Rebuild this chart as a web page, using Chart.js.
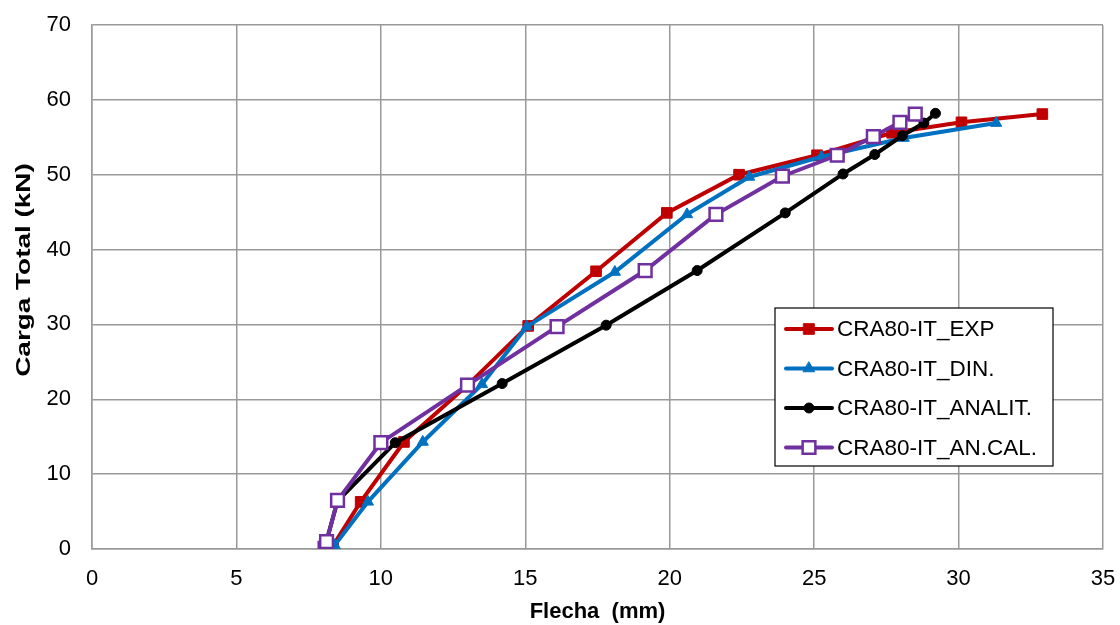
<!DOCTYPE html>
<html>
<head>
<meta charset="utf-8">
<script src="https://cdn.jsdelivr.net/npm/chart.js@4/dist/chart.umd.min.js"></script>
<style>
  html, body { margin: 0; padding: 0; background: #fff; }
  #wrap { width: 1120px; height: 625px; }
</style>
</head>
<body>
<div id="wrap"><canvas id="grafico" width="1120" height="625"></canvas></div>
<script>
// Flecha (mm) x Carga Total (kN)
const expX = [8.35, 9.3, 10.8, 13.0, 15.1, 17.45, 19.9, 22.4, 25.1, 27.7, 30.1, 32.9];
const expY = [0.5, 6.3, 14.3, 21.9, 29.8, 37.1, 44.9, 50.0, 52.6, 55.6, 57.0, 58.1];

const dinX = [8.4, 9.55, 11.45, 13.5, 15.05, 18.1, 20.6, 22.75, 25.25, 28.1, 31.3];
const dinY = [0.5, 6.3, 14.3, 22.0, 29.7, 37.0, 44.7, 49.7, 52.4, 54.9, 56.9];

const anaX = [8.1, 8.5, 10.5, 14.2, 17.8, 20.95, 24.0, 26.0, 27.1, 28.05, 28.8, 29.2];
const anaY = [0.8, 6.4, 14.2, 22.1, 29.9, 37.2, 44.9, 50.1, 52.7, 55.2, 56.9, 58.2];

const calX = [8.07, 8.12, 8.5, 10.0, 13.0, 16.1, 19.15, 21.6, 23.9, 25.8, 27.05, 27.97, 28.5];
const calY = [0.1, 1.0, 6.5, 14.2, 21.9, 29.7, 37.2, 44.7, 49.8, 52.6, 55.1, 57.0, 58.1];

const nomes = ['CRA80-IT_EXP', 'CRA80-IT_DIN.', 'CRA80-IT_ANALIT.', 'CRA80-IT_AN.CAL.'];
const xTicks = [0, 5, 10, 15, 20, 25, 30, 35];
const yTicks = [0, 10, 20, 30, 40, 50, 60, 70];
const tituloX = 'Flecha  (mm)';
const tituloY = 'Carga Total (kN)';

const pares = (xs, ys) => xs.map((x, i) => ({ x: x, y: ys[i] }));

const fonte = '"Liberation Sans", Arial, sans-serif';

// título vertical, um pouco esticado no sentido do texto
const tituloVertical = {
  id: 'tituloVertical',
  afterDraw(chart) {
    const ctx = chart.ctx;
    const a = chart.chartArea;
    ctx.save();
    ctx.translate(24, (a.top + a.bottom) / 2 - 17);
    ctx.rotate(-Math.PI / 2);
    ctx.scale(1.33, 1);
    ctx.font = 'bold 21px ' + fonte;
    ctx.fillStyle = '#000';
    ctx.textAlign = 'center';
    ctx.textBaseline = 'middle';
    ctx.fillText(tituloY, 0, 0);
    ctx.restore();
  }
};

// legenda desenhada dentro da área do gráfico
const legendaInterna = {
  id: 'legendaInterna',
  afterDraw(chart) {
    const ctx = chart.ctx;
    const a = chart.chartArea;
    const x0 = a.right - 328, y0 = a.top + 283;
    const w = 278, h = 158;
    ctx.save();
    ctx.fillStyle = '#fff';
    ctx.fillRect(x0, y0, w, h);
    ctx.strokeStyle = '#000';
    ctx.lineWidth = 1.2;
    ctx.strokeRect(x0, y0, w, h);
    ctx.font = '22.5px ' + fonte;
    ctx.textBaseline = 'middle';
    chart.data.datasets.forEach((ds, i) => {
      const yy = y0 + 21 + i * 39.5;
      const cx = x0 + 34;
      ctx.strokeStyle = ds.borderColor;
      ctx.lineWidth = 4;
      ctx.lineCap = 'round';
      ctx.beginPath();
      ctx.moveTo(x0 + 11, yy);
      ctx.lineTo(x0 + 57, yy);
      ctx.stroke();
      ctx.fillStyle = ds.pointBackgroundColor;
      ctx.strokeStyle = ds.pointBorderColor;
      ctx.lineWidth = ds.pointBorderWidth;
      ctx.beginPath();
      const r = ds.pointRadius;
      if (ds.pointStyle === 'circle') {
        ctx.arc(cx, yy, r, 0, Math.PI * 2);
      } else if (ds.pointStyle === 'triangle') {
        ctx.moveTo(cx, yy - r);
        ctx.lineTo(cx + r * 0.87, yy + r * 0.5);
        ctx.lineTo(cx - r * 0.87, yy + r * 0.5);
        ctx.closePath();
      } else {
        const s = r * Math.SQRT1_2;
        ctx.rect(cx - s, yy - s, 2 * s, 2 * s);
      }
      ctx.fill();
      ctx.stroke();
      ctx.fillStyle = '#000';
      ctx.fillText(nomes[i], x0 + 62, yy + 1);
    });
    ctx.restore();
  }
};

function serie(i, xs, ys, cor, estilo, raio, fundo, borda, ordem) {
  return {
    label: nomes[i],
    data: pares(xs, ys),
    showLine: true,
    borderColor: cor,
    borderWidth: 4,
    pointStyle: estilo,
    pointRadius: raio,
    pointHoverRadius: raio,
    pointBackgroundColor: fundo,
    pointBorderColor: borda,
    pointBorderWidth: borda === fundo ? 1 : 2.5,
    tension: 0,
    order: ordem
  };
}

new Chart(document.getElementById('grafico'), {
  type: 'scatter',
  data: {
    datasets: [
      serie(0, expX, expY, '#C00000', 'rect', 7.5, '#C00000', '#C00000', 4),
      serie(1, dinX, dinY, '#0070C0', 'triangle', 6.5, '#0070C0', '#0070C0', 3),
      serie(2, anaX, anaY, '#000000', 'circle', 5, '#000000', '#000000', 2),
      serie(3, calX, calY, '#7030A0', 'rect', 9, '#FFFFFF', '#7030A0', 1)
    ]
  },
  options: {
    responsive: false,
    animation: false,
    layout: { padding: { top: 25, right: 17, left: 0, bottom: 0 } },
    plugins: {
      legend: { display: false },
      tooltip: { enabled: false }
    },
    scales: {
      x: {
        type: 'linear',
        min: 0,
        max: 35,
        afterBuildTicks: s => { s.ticks = xTicks.map(v => ({ value: v })); },
        afterFit: s => { s.height = 76; s.paddingLeft = 0; s.paddingRight = 0; },
        ticks: { color: '#000', font: { family: fonte, size: 22 }, padding: 17 },
        grid: { color: '#999', lineWidth: 1.5, drawTicks: false },
        border: { color: '#999', width: 1.5 },
        title: {
          display: true,
          text: tituloX,
          color: '#000',
          font: { family: fonte, size: 22, weight: 'bold' },
          padding: { top: 5, bottom: 0 }
        }
      },
      y: {
        type: 'linear',
        min: 0,
        max: 70,
        afterBuildTicks: s => { s.ticks = yTicks.map(v => ({ value: v })); },
        afterFit: s => { s.width = 92; s.paddingTop = 0; s.paddingBottom = 0; },
        ticks: { color: '#000', font: { family: fonte, size: 22 }, padding: 21 },
        grid: { color: '#999', lineWidth: 1.5, drawTicks: false },
        border: { color: '#999', width: 1.5 },
        title: { display: false }
      }
    }
  },
  plugins: [legendaInterna, tituloVertical]
});
</script>
</body>
</html>
